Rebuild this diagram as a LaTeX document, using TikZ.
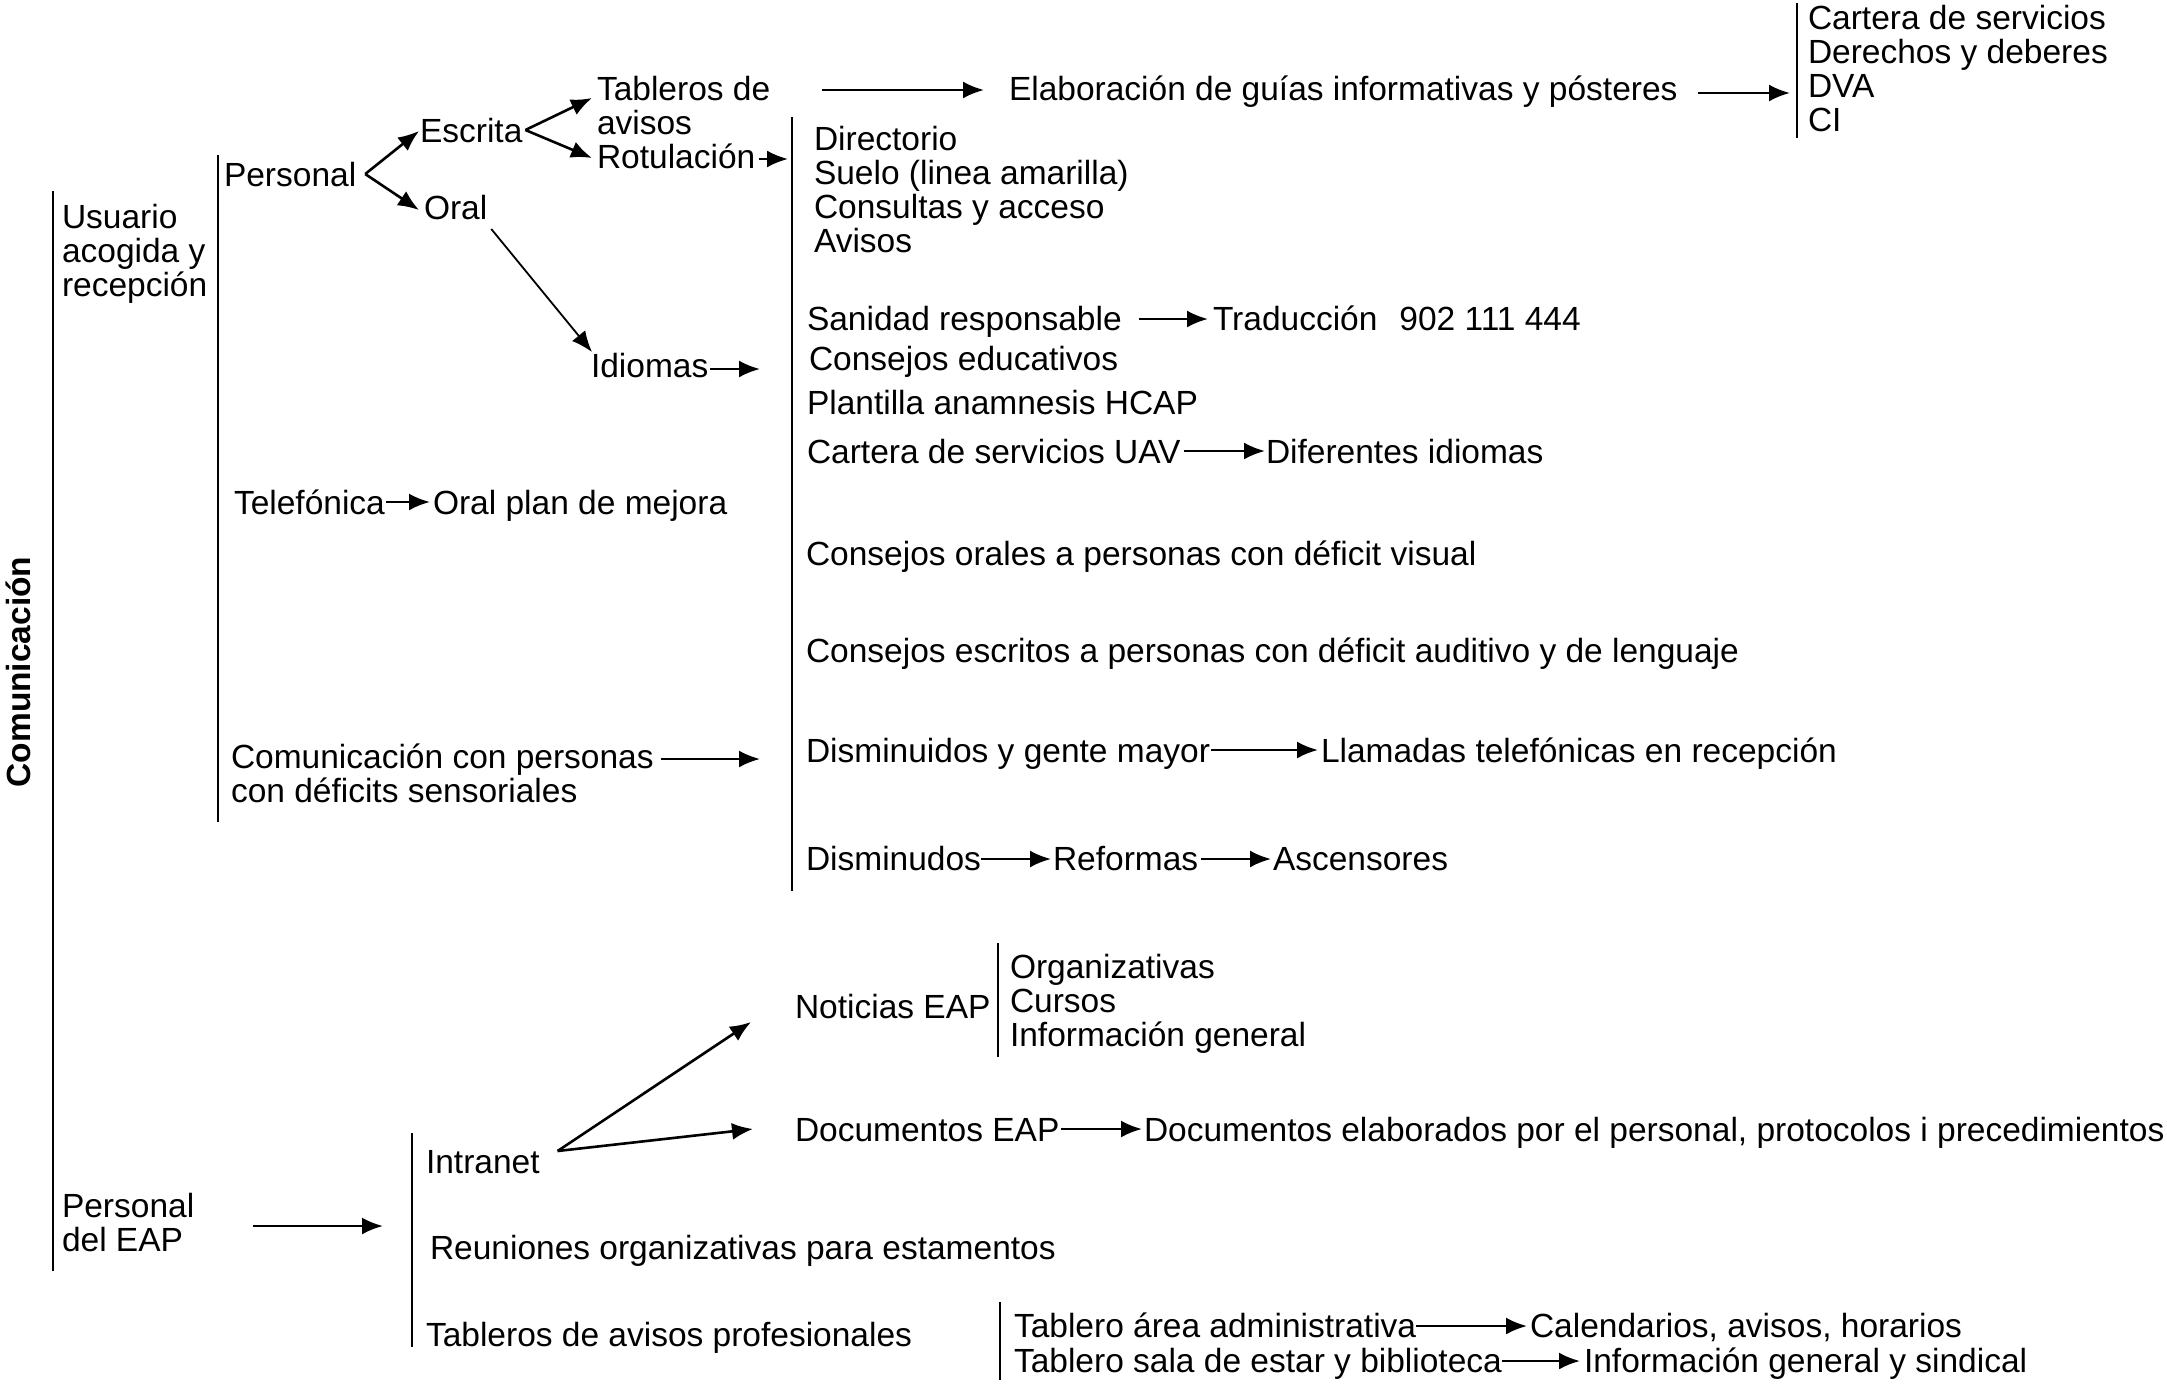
\documentclass[tikz,border=0pt]{standalone}
\usepackage{fontspec}
\setmainfont{Liberation Sans}
\usetikzlibrary{arrows.meta}
\newcommand\fs{\fontsize{16.75pt}{17pt}\selectfont}
\newcommand\lines[1]{\vtop{\lineskiplimit=-\maxdimen\halign{##\hfil\cr #1\crcr}}}
\tikzset{
  txt/.style={anchor=base west, inner sep=0pt, outer sep=0pt, font=\fs},
  brk/.style={line width=1pt},
  arr/.style={line width=1.3pt, -{Latex[length=10.5pt,width=8.5pt]}},
}
\begin{document}
\begin{tikzpicture}[x=0.5pt,y=-0.5pt]
\useasboundingbox (0,0) rectangle (2167,1387);

% title
\node[rotate=90, anchor=base, inner sep=0pt, font=\fs\bfseries] (com) at (30,672) {Comunicación};

% bracket lines
\coordinate (L0t) at (53,191);   \coordinate (L0b) at (53,1271);
\coordinate (L1t) at (218,155);  \coordinate (L1b) at (218,822);
\coordinate (L2t) at (792,117);  \coordinate (L2b) at (792,891);
\coordinate (L3t) at (1797,3);   \coordinate (L3b) at (1797,138);
\coordinate (L4t) at (998,943);  \coordinate (L4b) at (998,1057);
\coordinate (L5t) at (412,1133); \coordinate (L5b) at (412,1347);
\coordinate (L6t) at (1000,1302);\coordinate (L6b) at (1000,1380);
\foreach \a in {0,...,6} \draw[brk] (L\a t) -- (L\a b);

% texts
\node[txt] (usuario) at (62,228) {\lines{Usuario\cr acogida y\cr recepción}};
\node[txt] (personal) at (224,186) {Personal};
\node[txt] (escrita) at (420,142) {Escrita};
\node[txt] (oral) at (424,219) {Oral};
\node[txt] (tableros) at (597,100) {\lines{Tableros de\cr avisos}};
\node[txt] (rotulacion) at (597,168) {Rotulación};
\node[txt] (elaboracion) at (1009,100) {Elaboración de guías informativas y pósteres};
\node[txt] (cartera) at (1808,29) {\lines{Cartera de servicios\cr Derechos y deberes\cr DVA\cr CI}};
\node[txt] (directorio) at (814,150) {\lines{Directorio\cr Suelo (linea amarilla)\cr Consultas y acceso\cr Avisos}};
\node[txt] (idiomas) at (591,377) {Idiomas};
\node[txt] (sanidad) at (807,330) {Sanidad responsable};
\node[txt] (traduccion) at (1213,330) {Traducción\hspace{11pt}902 111 444};
\node[txt] (consejosed) at (809,370) {Consejos educativos};
\node[txt] (plantilla) at (807,414) {Plantilla anamnesis HCAP};
\node[txt] (carterauav) at (807,463) {Cartera de servicios UAV};
\node[txt] (diferentes) at (1266,463) {Diferentes idiomas};
\node[txt] (telefonica) at (234,514) {Telefónica};
\node[txt] (oralplan) at (433,514) {Oral plan de mejora};
\node[txt] (consejosor) at (806,565) {Consejos orales a personas con déficit visual};
\node[txt] (consejoses) at (806,662) {Consejos escritos a personas con déficit auditivo y de lenguaje};
\node[txt] (compers) at (231,768) {\lines{Comunicación con personas\cr con déficits sensoriales}};
\node[txt] (dismgente) at (806,762) {Disminuidos y gente mayor};
\node[txt] (llamadas) at (1321,762) {Llamadas telefónicas en recepción};
\node[txt] (disminudos) at (806,870) {Disminudos};
\node[txt] (reformas) at (1053,870) {Reformas};
\node[txt] (ascensores) at (1273,870) {Ascensores};
\node[txt] (noticias) at (795,1018) {Noticias EAP};
\node[txt] (organiz) at (1010,978) {\lines{Organizativas\cr Cursos\cr Información general}};
\node[txt] (intranet) at (426,1173) {Intranet};
\node[txt] (documentos) at (795,1141) {Documentos EAP};
\node[txt] (docelab) at (1144,1141) {Documentos elaborados por el personal, protocolos i precedimientos};
\node[txt] (personaleap) at (62,1217) {\lines{Personal\cr del EAP}};
\node[txt] (reuniones) at (430,1259) {Reuniones organizativas para estamentos};
\node[txt] (tablerosprof) at (426,1346) {Tableros de avisos profesionales};
\node[txt] (tablarea) at (1014,1337) {Tablero área administrativa};
\node[txt] (calendarios) at (1530,1337) {Calendarios, avisos, horarios};
\node[txt] (tablsala) at (1014,1372) {Tablero sala de estar y biblioteca};
\node[txt] (infogen) at (1584,1372) {Información general y sindical};

% free ends
\coordinate (e1) at (788,159);
\coordinate (e2) at (760,369);
\coordinate (e3) at (1790,93);
\coordinate (e4) at (760,759);
\coordinate (e5) at (383,1226);

% connectors
\draw[arr] ([shift={(9,-12)}]personal.base east) -- ([shift={(-1,-11)}]escrita.base west);
\draw[arr] ([shift={(9,-12)}]personal.base east) -- ([shift={(-5,-9)}]oral.base west);
\draw[arr] ([shift={(3,-12)}]escrita.base east) -- ([shift={(-5,-2)}]tableros.base west);
\draw[arr] ([shift={(3,-12)}]escrita.base east) -- ([shift={(-5,-10)}]rotulacion.base west);
\draw[arr] ([shift={(4,-9)}]rotulacion.base east) -- (e1);
\draw[arr] ([shift={(52,-10)}]tableros.base east) -- ([shift={(-25,-10)}]elaboracion.base west);
\draw[arr] ([shift={(20,-7)}]elaboracion.base east) -- (e3);
\draw[arr, line width=0.9pt] ([shift={(4,10)}]oral.base east) -- ([shift={(1,-25)}]idiomas.base west);
\draw[arr] ([shift={(2,-8)}]idiomas.base east) -- (e2);
\draw[arr] ([shift={(17,-11)}]sanidad.base east) -- ([shift={(-5,-11)}]traduccion.base west);
\draw[arr] ([shift={(3,-12)}]carterauav.base east) -- ([shift={(-1,-12)}]diferentes.base west);
\draw[arr] ([shift={(1,-12)}]telefonica.base east) -- ([shift={(-3,-12)}]oralplan.base west);
\draw[arr] ([shift={(7,-9)}]compers.base east) -- (e4);
\draw[arr] ([shift={(1,-12)}]dismgente.base east) -- ([shift={(-3,-12)}]llamadas.base west);
\draw[arr] ([shift={(0,-11)}]disminudos.base east) -- ([shift={(-2,-11)}]reformas.base west);
\draw[arr] ([shift={(3,-11)}]reformas.base east) -- ([shift={(-2,-11)}]ascensores.base west);
\draw[arr] ([shift={(18,-22)}]intranet.base east) -- ([shift={(-44,4)}]noticias.base west);
\draw[arr] ([shift={(18,-22)}]intranet.base east) -- ([shift={(-42,-12)}]documentos.base west);
\draw[arr] ([shift={(2,-12)}]documentos.base east) -- ([shift={(-2,-12)}]docelab.base west);
\draw[arr] ([shift={(59,9)}]personaleap.base east) -- (e5);
\draw[arr] ([shift={(0,-11)}]tablarea.base east) -- ([shift={(-3,-11)}]calendarios.base west);
\draw[arr] ([shift={(0,-11)}]tablsala.base east) -- ([shift={(-4,-11)}]infogen.base west);
\end{tikzpicture}
\end{document}
